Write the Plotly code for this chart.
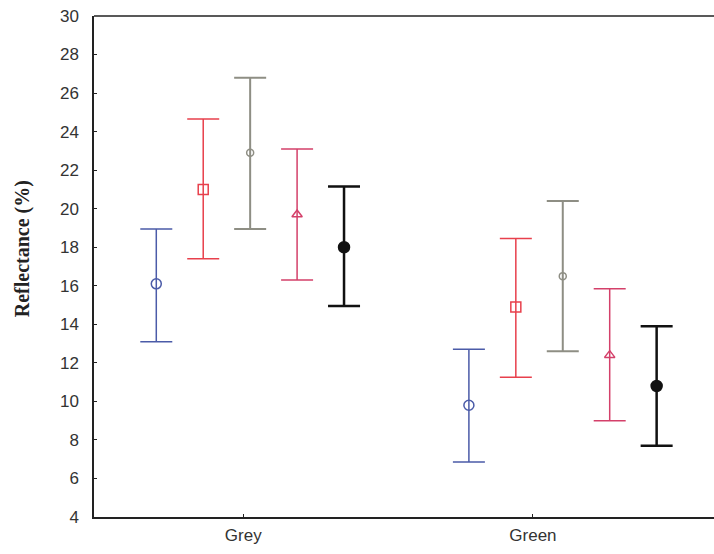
import plotly.graph_objects as go

categories = ["Grey", "Green"]
series_names = ["S1", "S2", "S3", "S4", "S5"]
means = {
    "S1": [16.1, 9.8],
    "S2": [21.0, 14.9],
    "S3": [22.9, 16.5],
    "S4": [19.7, 12.4],
    "S5": [18.0, 10.8],
}
upper = {
    "S1": [18.95, 12.7],
    "S2": [24.65, 18.45],
    "S3": [26.8, 20.4],
    "S4": [23.1, 15.85],
    "S5": [21.15, 13.9],
}
lower = {
    "S1": [13.1, 6.85],
    "S2": [17.4, 11.25],
    "S3": [18.95, 12.6],
    "S4": [16.3, 9.0],
    "S5": [14.95, 7.7],
}
y_title = "Reflectance (%)"

colors = ["#4b5ba8", "#e8404c", "#8e8e84", "#d4406a", "#111111"]
symbols = ["circle-open", "square-open", "circle-open", "triangle-up-open", "circle"]
msizes = [10, 10, 7, 9, 11]
lwidths = [1.5, 1.5, 2.0, 1.5, 2.5]
dodge = [-2, -1, 0, 1, 2]
group_shift = [0.024, 0.103]
step = 0.162

fig = go.Figure()
for i, s in enumerate(series_names):
    xs = [g + group_shift[g] + dodge[i] * step for g in range(len(categories))]
    m = means[s]
    fig.add_trace(go.Scatter(
        x=xs, y=m, mode="markers", name=s, showlegend=False,
        marker=dict(symbol=symbols[i], size=msizes[i], color=colors[i],
                    line=dict(color=colors[i], width=1.5)),
        error_y=dict(type="data", symmetric=False,
                     array=[u - v for u, v in zip(upper[s], m)],
                     arrayminus=[v - l for v, l in zip(m, lower[s])],
                     color=colors[i], thickness=lwidths[i], width=16),
    ))

fig.update_layout(
    width=714, height=554,
    margin=dict(l=94, r=0, t=16, b=37),
    plot_bgcolor="white", paper_bgcolor="white",
    font=dict(family="Liberation Sans, Arial", size=17, color="#333333"),
    shapes=[dict(type="line", xref="paper", yref="paper", x0=0, x1=1, y0=1, y1=1,
                 line=dict(color="#222222", width=1.5))],
    annotations=[dict(text="<b>" + y_title + "</b>", xref="paper", yref="paper",
                      x=-0.114, y=0.535, xanchor="center", yanchor="middle",
                      textangle=-90, showarrow=False,
                      font=dict(family="Liberation Serif, Times New Roman", size=20, color="#222222"))],
)
fig.update_xaxes(range=[-0.515, 1.625], tickvals=[0, 1], ticktext=categories,
                 showgrid=False, zeroline=False, showline=True, linecolor="#222222",
                 linewidth=1.5, ticks="inside", ticklen=3, tickcolor="#222222",
                 ticklabelstandoff=2,
                 tickfont=dict(size=17, color="#333333"))
fig.update_yaxes(range=[4, 30], tickvals=list(range(4, 31, 2)),
                 showgrid=False, zeroline=False, showline=True, linecolor="#222222",
                 linewidth=1.5, ticks="inside", ticklen=3, tickcolor="#222222",
                 ticklabelstandoff=10,
                 tickfont=dict(size=17, color="#333333"))

fig.write_html("out.html")
